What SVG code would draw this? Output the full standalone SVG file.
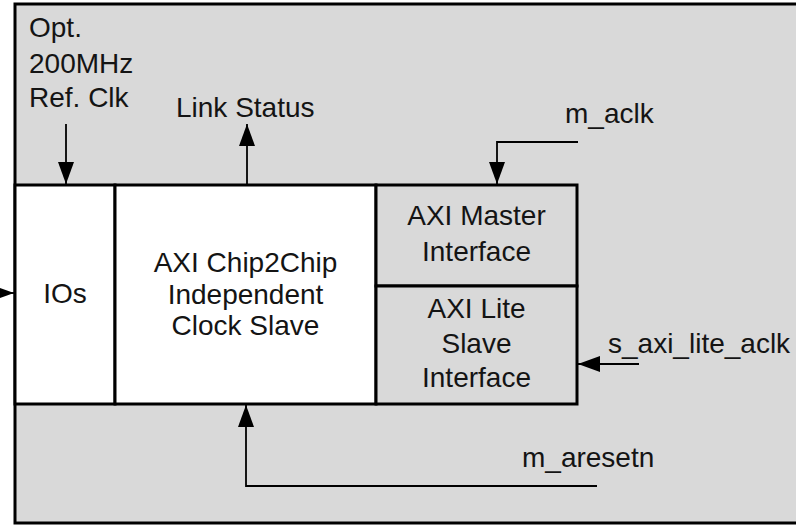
<svg xmlns="http://www.w3.org/2000/svg" width="796" height="526" viewBox="0 0 796 526">
  <style>
    .box { stroke: #000; stroke-width: 3; }
    .gray { fill: #d9d9d9; }
    .white { fill: #fff; }
    .t { font-family: "Liberation Sans", Arial, sans-serif; font-size: 28px; fill: #141414; }
    .c { text-anchor: middle; }
    .wire { fill: none; stroke: #000; stroke-width: 1.8; }
  </style>
  <defs>
    <marker id="ah" markerUnits="userSpaceOnUse" markerWidth="22" markerHeight="16" refX="22" refY="8" orient="auto">
      <path d="M0,0 L22,8 L0,16 z" fill="#000"/>
    </marker>
  </defs>

  <g id="outer">
    <rect class="box gray" x="15" y="4" width="790" height="519"/>
  </g>

  <g id="ios">
    <rect class="box white" x="15" y="185" width="100" height="219"/>
    <text class="t c" x="65" y="303">IOs</text>
  </g>

  <g id="chip2chip">
    <rect class="box white" x="115" y="185" width="261" height="219"/>
    <text class="t c" x="245.5" y="272">AXI Chip2Chip</text>
    <text class="t c" x="245.5" y="304">Independent</text>
    <text class="t c" x="245.5" y="335">Clock Slave</text>
  </g>

  <g id="axi_master">
    <rect class="box gray" x="376" y="185" width="201" height="101"/>
    <text class="t c" x="476.5" y="225">AXI Master</text>
    <text class="t c" x="476.5" y="261">Interface</text>
  </g>

  <g id="axi_lite">
    <rect class="box gray" x="376" y="286" width="201" height="118"/>
    <text class="t c" x="476.5" y="318">AXI Lite</text>
    <text class="t c" x="476.5" y="353">Slave</text>
    <text class="t c" x="476.5" y="387">Interface</text>
  </g>

  <g id="connectors">
    <line class="wire" x1="66" y1="124" x2="66" y2="184" marker-end="url(#ah)"/>
    <line class="wire" x1="247" y1="184" x2="247" y2="124" marker-end="url(#ah)"/>
    <polyline class="wire" points="578,142 497,142 497,184" marker-end="url(#ah)"/>
    <line class="wire" x1="639" y1="364" x2="578" y2="364" marker-end="url(#ah)"/>
    <polyline class="wire" points="597,486 246,486 246,405" marker-end="url(#ah)"/>
    <line class="wire" x1="-12" y1="293" x2="14" y2="293" marker-end="url(#ah)"/>
  </g>

  <g id="labels">
    <text class="t" x="29" y="37">Opt.</text>
    <text class="t" x="29" y="73">200MHz</text>
    <text class="t" x="29" y="107">Ref. Clk</text>
    <text class="t" x="176" y="117">Link Status</text>
    <text class="t" x="565" y="123">m_aclk</text>
    <text class="t" x="608" y="353">s_axi_lite_aclk</text>
    <text class="t" x="522" y="467">m_aresetn</text>
  </g>
</svg>
